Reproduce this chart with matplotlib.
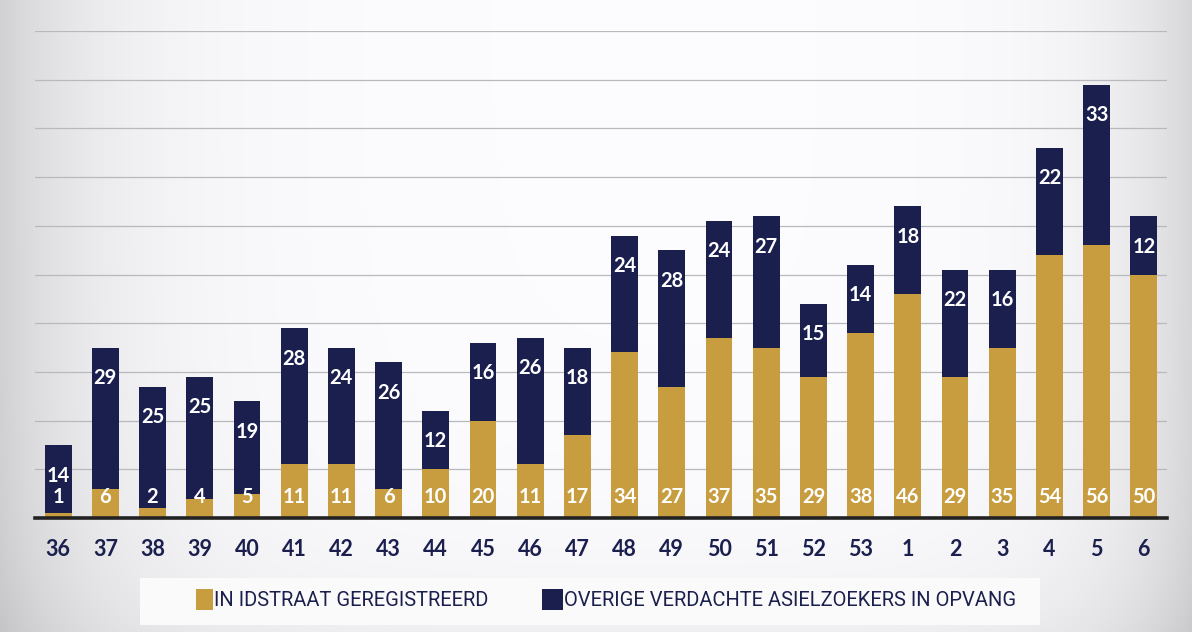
import numpy as np
import matplotlib
matplotlib.use("Agg")
import matplotlib.pyplot as plt
from matplotlib.patches import Rectangle

weeks = ["36", "37", "38", "39", "40", "41", "42", "43", "44", "45", "46", "47",
         "48", "49", "50", "51", "52", "53", "1", "2", "3", "4", "5", "6"]
registered = [1, 6, 2, 4, 5, 11, 11, 6, 10, 20, 11, 17,
              34, 27, 37, 35, 29, 38, 46, 29, 35, 54, 56, 50]
other = [14, 29, 25, 25, 19, 28, 24, 26, 12, 16, 26, 18,
         24, 28, 24, 27, 15, 14, 18, 22, 16, 22, 33, 12]
legend_labels = ["IN IDSTRAAT GEREGISTREERD", "OVERIGE VERDACHTE ASIELZOEKERS IN OPVANG"]

NAVY = "#1b1f4e"
GOLD = "#c79d3f"
FONT = ["Lato", "DejaVu Sans"]
NARROW = ["Liberation Sans Narrow", "Roboto", "DejaVu Sans"]

W, H = 1192, 632
fig = plt.figure(figsize=(W / 100, H / 100), dpi=100)

# background gradient
bg = fig.add_axes([0, 0, 1, 1], zorder=-10)
xx = np.linspace(0, 1, 600)
yy = np.linspace(0, 1, 320)
X, Y = np.meshgrid(xx, yy)
shade = (0.17 * np.exp(-X / 0.09) + 0.15 * np.exp(-(1 - X) / 0.07)
         + 0.05 * np.exp(-Y / 0.12))
img = np.clip(1 - shade, 0, 1)
rgb = np.dstack([img * 0.99, img * 0.99, img])
bg.imshow(rgb, extent=[0, 1, 0, 1], aspect="auto", origin="lower")
bg.axis("off")

ax = fig.add_axes([35 / W, 1 - 518 / H, (1167 - 35) / W, (518 - 31) / H])
ax.set_facecolor("none")
x = np.arange(len(weeks))
bw = 0.57
ax.bar(x, registered, bw, color=GOLD, zorder=3)
ax.bar(x, other, bw, bottom=registered, color=NAVY, zorder=3)

ax.set_xlim(-0.49, len(weeks) - 0.51)
ax.set_ylim(0, 100)
ax.set_yticks(np.arange(10, 101, 10))
ax.yaxis.grid(True, color="#b8b9bd", lw=0.9, zorder=1)
ax.tick_params(axis="y", length=0, labelleft=False)
for s in ["top", "right", "left"]:
    ax.spines[s].set_visible(False)
ax.spines["bottom"].set_color("#222222")
ax.spines["bottom"].set_linewidth(2.6)
ax.spines["bottom"].set_zorder(5)
ax.set_xticks(x)
ax.set_xticklabels(weeks, fontsize=15.5, fontweight="bold", color=NAVY, family=FONT)
ax.tick_params(axis="x", length=0, pad=15)

for i in range(len(weeks)):
    ax.annotate(str(registered[i]), (x[i], 0), xytext=(0, 15), textcoords="offset points",
                ha="center", va="center", color="white", fontsize=14.5,
                fontweight="bold", family=FONT, zorder=6)
    top = registered[i] + other[i]
    ax.annotate(str(other[i]), (x[i], top), xytext=(0, -22), textcoords="offset points",
                ha="center", va="center", color="white", fontsize=14.5,
                fontweight="bold", family=FONT, zorder=6)

# legend box
fig.patches.append(Rectangle((140 / W, 1 - 625 / H), 900 / W, 47 / H,
                             transform=fig.transFigure, facecolor="#fafafa",
                             edgecolor="none", zorder=-5))
fig.patches.append(Rectangle((196 / W, 1 - 610 / H), 17 / W, 21 / H,
                             transform=fig.transFigure, facecolor=GOLD, edgecolor="none"))
fig.patches.append(Rectangle((542 / W, 1 - 610 / H), 21 / W, 21 / H,
                             transform=fig.transFigure, facecolor=NAVY, edgecolor="none"))
fig.text(214 / W, 1 - 600 / H, legend_labels[0], ha="left", va="center",
         fontsize=14.5, color=NAVY, family=NARROW)
fig.text(564 / W, 1 - 600 / H, legend_labels[1], ha="left", va="center",
         fontsize=14.5, color=NAVY, family=NARROW)

fig.savefig("out.png", dpi=100)
